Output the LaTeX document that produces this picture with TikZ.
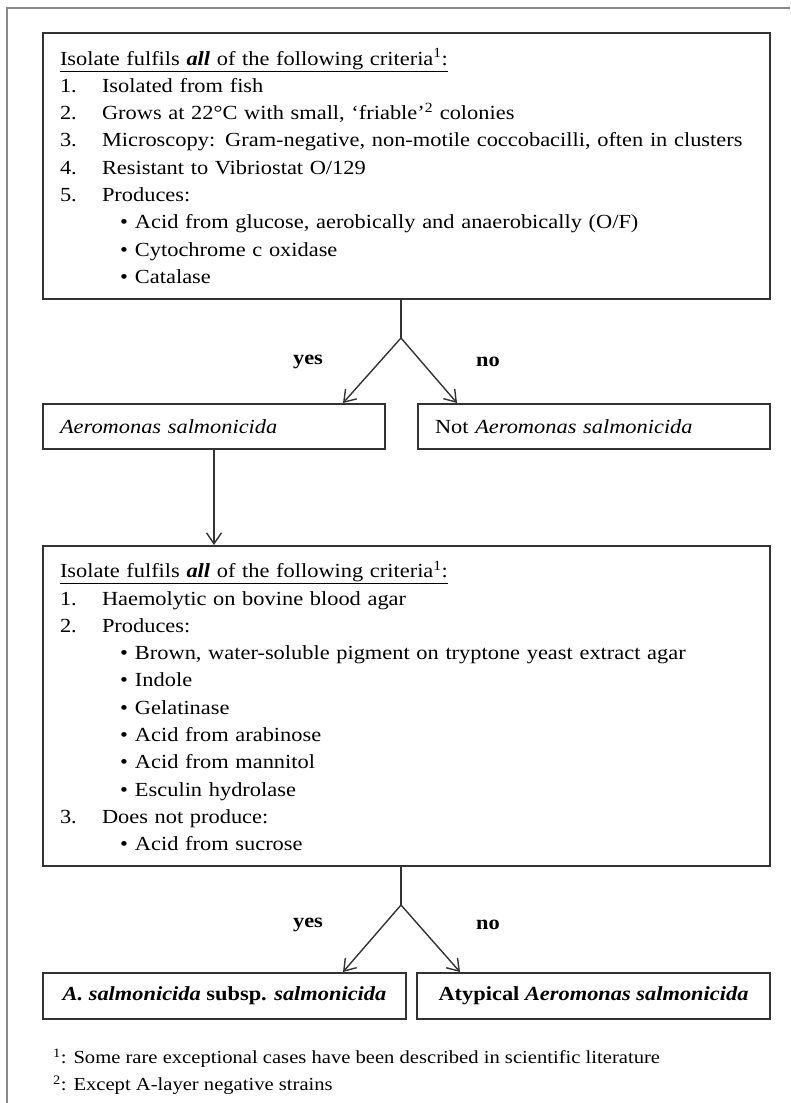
\documentclass[tikz,border=0pt]{standalone}
\usepackage{fontspec}
\setmainfont{Liberation Serif}[FakeStretch=1.12]
\usetikzlibrary{arrows.meta}
\definecolor{framegray}{HTML}{8A8A8A}
\definecolor{boxgray}{HTML}{333333}
\tikzset{>={Straight Barb[length=11pt,width=15pt]}}
\tikzset{
  critbox/.style={draw=boxgray, line width=2pt, anchor=north west,
    inner xsep=17pt, inner ysep=0pt, align=left,
    font=\fontsize{20}{27.3}\selectfont},
  resbox/.style={draw=boxgray, line width=2pt, anchor=north west,
    inner sep=0pt, align=center,
    font=\fontsize{20}{27.3}\selectfont\bfseries},
  link/.style={->, line width=1.4pt, draw=boxgray},
  answer/.style={font=\fontsize{20}{24}\selectfont\bfseries},
  fnote/.style={anchor=west, inner sep=0pt,
    font=\fontsize{18.4}{22}\selectfont}
}
\newcommand{\numitem}[2]{\makebox[42pt][l]{#1}#2}
\newcommand{\bulitem}[1]{\hspace*{60pt}\makebox[15pt][l]{\textbullet}#1}
\newcommand{\crithead}{\underline{Isolate fulfils \textbf{\textit{all}} of the following criteria\textsuperscript{1}:}}

\begin{document}
\begin{tikzpicture}[x=1pt,y=-1pt]
    \useasboundingbox (0,0) rectangle (790,1103);
    % outer frame
    \draw[framegray, line width=2.5pt] (7,1103) -- (7,8) -- (790,8);
    %
    \node[critbox, text width=693pt, minimum height=266pt] (crit1) at (42,32) {%
      \crithead\\
      \numitem{1.}{Isolated from fish}\\
      \numitem{2.}{Grows at 22°C with small, ‘friable’\textsuperscript{2} colonies}\\
      \numitem{3.}{Microscopy: Gram-negative, non-motile coccobacilli, often in clusters}\\
      \numitem{4.}{Resistant to Vibriostat O/129}\\
      \numitem{5.}{Produces:}\\
      \bulitem{Acid from glucose, aerobically and anaerobically (O/F)}\\
      \bulitem{Cytochrome c oxidase}\\
      \bulitem{Catalase}};
    %
    \node[critbox, text width=308pt, minimum height=45pt] (aero) at (42,403) {\textit{Aeromonas salmonicida}};
    \node[critbox, text width=318pt, minimum height=45pt] (notaero) at (417,403) {Not \textit{Aeromonas salmonicida}};
    %
    \node[critbox, text width=693pt, minimum height=320pt] (crit2) at (42,545) {%
      \crithead\\
      \numitem{1.}{Haemolytic on bovine blood agar}\\
      \numitem{2.}{Produces:}\\
      \bulitem{Brown, water-soluble pigment on tryptone yeast extract agar}\\
      \bulitem{Indole}\\
      \bulitem{Gelatinase}\\
      \bulitem{Acid from arabinose}\\
      \bulitem{Acid from mannitol}\\
      \bulitem{Esculin hydrolase}\\
      \numitem{3.}{Does not produce:}\\
      \bulitem{Acid from sucrose}};
    %
    \node[resbox, minimum width=363pt, minimum height=46pt] (typical) at (42,972) {\textit{A. salmonicida} subsp. \textit{salmonicida}};
    \node[resbox, minimum width=353pt, minimum height=46pt] (atypical) at (416,972) {Atypical \textit{Aeromonas salmonicida}};
    %
    % forks and arrow ends
    \coordinate (fork1) at (401,338);
    \coordinate (yes1) at (343,0);
    \coordinate (no1) at (457,0);
    \coordinate (fork2) at (401,905);
    \coordinate (yes2) at (343,0);
    \coordinate (no2) at (460,0);
    %
    \draw[link,-] (crit1.south -| fork1) -- (fork1);
    \draw[link] (fork1) -- (aero.north -| yes1);
    \draw[link] (fork1) -- (notaero.north -| no1);
    \node[answer] (yesa) at (308,362) {yes};
    \node[answer] (noa) at (488,362) {no};
    %
    \draw[link] (aero.south) -- (crit2.north -| aero.south);
    %
    \draw[link,-] (crit2.south -| fork2) -- (fork2);
    \draw[link] (fork2) -- (typical.north -| yes2);
    \draw[link] (fork2) -- (atypical.north -| no2);
    \node[answer] (yesb) at (308,925) {yes};
    \node[answer] (nob) at (488,925) {no};
    %
    % footnotes
    \node[fnote] (fn1) at (53,1058) {\textsuperscript{1}: Some rare exceptional cases have been described in scientific literature};
    \node[fnote] (fn2) at (53,1085) {\textsuperscript{2}: Except A-layer negative strains};
\end{tikzpicture}
\end{document}
